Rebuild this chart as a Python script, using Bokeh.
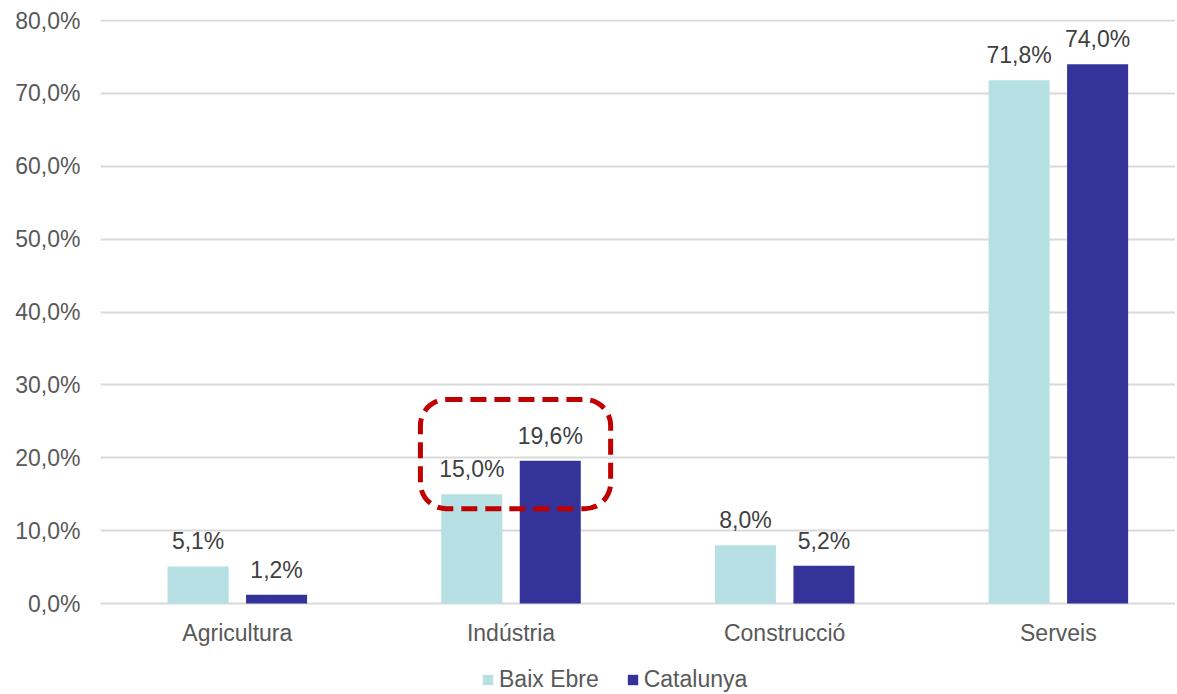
from bokeh.plotting import figure
from bokeh.models import ColumnDataSource, Range1d, FixedTicker, Legend, LegendItem, BoxAnnotation
from bokeh.core.properties import value
from bokeh.embed import file_html
from bokeh.resources import INLINE

categories = ["Agricultura", "Indústria", "Construcció", "Serveis"]
baix_ebre = [5.1, 15.0, 8.0, 71.8]
catalunya = [1.2, 19.6, 5.2, 74.0]
series_names = ["Baix Ebre", "Catalunya"]
y_ticks = [0, 10, 20, 30, 40, 50, 60, 70, 80]
y_tick_labels = ["0,0%", "10,0%", "20,0%", "30,0%", "40,0%", "50,0%", "60,0%", "70,0%", "80,0%"]

FONT = "Liberation Sans"
FS = "23px"
COL_BE = "#b7e0e4"
COL_CAT = "#333399"
OFF = 0.1434
BW = 0.223

idx = [i + 0.5 for i in range(len(categories))]

def fmt(v):
    return f"{v:.1f}".replace(".", ",") + "%"

src_be = ColumnDataSource(dict(x=[c - OFF for c in idx], top=baix_ebre, label=[fmt(v) for v in baix_ebre]))
src_cat = ColumnDataSource(dict(x=[c + OFF for c in idx], top=catalunya, label=[fmt(v) for v in catalunya]))

# frame extends below zero so that category labels and legend sit inside it
p = figure(frame_width=1075, frame_height=675, x_range=Range1d(0, 3.928), y_range=Range1d(-12.48, 80.14),
           output_backend="svg", toolbar_location=None,
           min_border_left=100, min_border_right=0, min_border_top=19, min_border_bottom=0)
p.outline_line_color = None
p.background_fill_color = "white"
p.border_fill_color = "white"

r1 = p.vbar(x="x", top="top", bottom=0, width=BW, source=src_be, fill_color=COL_BE, line_color=None)
r2 = p.vbar(x="x", top="top", bottom=0, width=BW, source=src_cat, fill_color=COL_CAT, line_color=None)

for src in (src_be, src_cat):
    p.text(x="x", y="top", text="label", source=src, text_font=value(FONT), text_font_size=FS,
           text_color="#404040", text_align="center", text_baseline="alphabetic", y_offset=-25)

# highlight box around Indústria
hl = idx[categories.index("Indústria")]
box = BoxAnnotation(left=hl - 0.331, right=hl + 0.364, bottom=13.0, top=28.0,
                    fill_alpha=0, line_color="#c00000", line_alpha=1.0, line_width=5, line_dash="16 8",
                    border_radius=26, level="overlay")
p.add_layout(box)

# axes
p.yaxis.ticker = FixedTicker(ticks=y_ticks)
p.yaxis.major_label_overrides = {t: l for t, l in zip(y_ticks, y_tick_labels)}
p.xaxis.ticker = FixedTicker(ticks=idx)
p.xaxis.major_label_overrides = {c: n for c, n in zip(idx, categories)}
p.xaxis.fixed_location = 0
for ax in (p.xaxis, p.yaxis):
    ax.axis_line_color = None
    ax.major_tick_line_color = None
    ax.minor_tick_line_color = None
    ax.major_tick_in = 0
    ax.major_tick_out = 0
    ax.minor_tick_out = 0
    ax.major_label_text_font = FONT
    ax.major_label_text_font_size = FS
    ax.major_label_text_color = "#595959"
p.yaxis.major_label_standoff = 20
p.xaxis.major_label_standoff = 16

p.xgrid.grid_line_color = None
p.ygrid.ticker = FixedTicker(ticks=y_ticks)
p.ygrid.grid_line_color = "#d9d9d9"
p.ygrid.grid_line_width = 2

legend = Legend(items=[LegendItem(label=series_names[0], renderers=[r1]),
                       LegendItem(label=series_names[1], renderers=[r2])],
                orientation="horizontal", location=(381, 1),
                label_text_font=FONT, label_text_font_size=FS, label_text_color="#595959",
                glyph_width=13, glyph_height=13, label_standoff=5, spacing=27, label_height=20,
                padding=0, margin=0, border_line_color=None, background_fill_alpha=0)
p.add_layout(legend, "center")

open("out.html", "w").write(file_html(p, INLINE))
